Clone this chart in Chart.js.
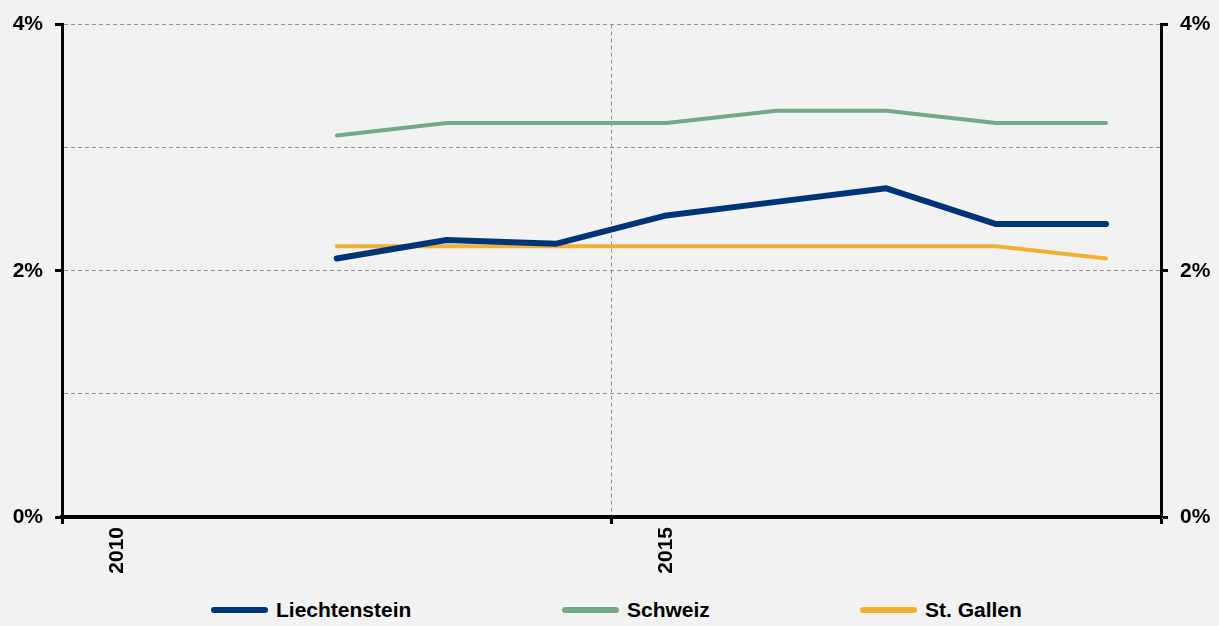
<!DOCTYPE html>
<html>
<head>
<meta charset="utf-8">
<script src="https://cdn.jsdelivr.net/npm/chart.js@4.4.1/dist/chart.umd.min.js"></script>
<style>
  html, body { margin: 0; padding: 0; background: #f2f2f2; }
  #wrap { width: 1219px; height: 626px; position: relative; background: #f2f2f2; }
  #box { width: 1219px; height: 590px; position: relative; }
  #legende { position: absolute; left: 0; top: 590px; width: 1219px; height: 36px; }
  .item { position: absolute; top: 8px; height: 24px; display: flex; align-items: center;
          font: bold 21px "Liberation Sans", Arial, sans-serif; color: #000; }
  .strich { width: 57px; height: 6px; border-radius: 3px; margin-right: 8px; }
</style>
</head>
<body>
<div id="wrap">
  <div id="box"><canvas id="myChart"></canvas></div>
  <div id="legende"></div>
</div>
<script>
// Jahre
var jahre = ['2010', '2011', '2012', '2013', '2014', '2015', '2016', '2017', '2018', '2019'];

// Werte in %
var liechtenstein = [null, null, 2.1, 2.25, 2.22, 2.45, 2.56, 2.67, 2.38, 2.38];
var schweiz       = [null, null, 3.1, 3.2, 3.2, 3.2, 3.3, 3.3, 3.2, 3.2];
var stGallen      = [null, null, 2.2, 2.2, 2.2, 2.2, 2.2, 2.2, 2.2, 2.1];

var namen = ['Liechtenstein', 'Schweiz', 'St. Gallen'];
var farben = ['#003478', '#72a98a', '#f0b030'];
var breiten = [6, 4, 4];
var legendeX = [211, 562, 860];

var schrift = { family: '"Liberation Sans", Arial, sans-serif', size: 21, weight: 'bold' };

function yTicks(v) {
    return v % 2 === 0 ? v + '%' : '';
}

const ctx = document.getElementById('myChart');
const myChart = new Chart(ctx, {
    type: 'line',
    data: {
        labels: jahre,
        datasets: [
            { label: namen[0], data: liechtenstein, borderColor: farben[0], backgroundColor: farben[0], borderWidth: breiten[0] },
            { label: namen[1], data: schweiz, borderColor: farben[1], backgroundColor: farben[1], borderWidth: breiten[1] },
            { label: namen[2], data: stGallen, borderColor: farben[2], backgroundColor: farben[2], borderWidth: breiten[2] }
        ]
    },
    options: {
        responsive: true,
        maintainAspectRatio: false,
        animation: false,
        layout: { padding: { top: 22, left: 0, right: 0, bottom: 0 } },
        elements: {
            point: { radius: 0, hoverRadius: 0 },
            line: { tension: 0, borderCapStyle: 'round', borderJoinStyle: 'round' }
        },
        plugins: {
            legend: { display: false },
            tooltip: { enabled: false }
        },
        scales: {
            x: {
                type: 'category',
                offset: true,
                afterFit: function (s) { s.height = 73; },
                grid: {
                    offset: true,
                    drawOnChartArea: true,
                    color: function (c) { return c.index === 5 ? '#8f8f8f' : 'rgba(0,0,0,0)'; },
                    lineWidth: 1,
                    tickLength: 7,
                    tickWidth: 3,
                    tickColor: function (c) {
                        return (c.index === 0 || c.index === 5 || c.index === undefined) ? '#000' : 'rgba(0,0,0,0)';
                    }
                },
                border: { display: true, color: '#000', width: 4, dash: [4, 3] },
                ticks: {
                    autoSkip: false,
                    maxRotation: 90,
                    minRotation: 90,
                    padding: 3,
                    color: '#000',
                    font: schrift,
                    callback: function (v, i) {
                        var j = jahre[i];
                        return (parseInt(j) % 5 === 0) ? j : '';
                    }
                }
            },
            y: {
                position: 'left',
                min: 0,
                max: 4,
                afterFit: function (s) { s.width = 62; },
                grid: {
                    color: function (c) { return c.tick.value === 0 ? 'rgba(0,0,0,0)' : '#8f8f8f'; },
                    lineWidth: 1,
                    tickLength: 7,
                    tickWidth: 3,
                    tickColor: function (c) { return c.tick.value % 2 === 0 ? '#000' : 'rgba(0,0,0,0)'; }
                },
                border: { display: true, color: '#000', width: 3, dash: [4, 3] },
                ticks: { stepSize: 1, padding: 12, color: '#000', font: schrift, callback: yTicks }
            },
            y2: {
                position: 'right',
                min: 0,
                max: 4,
                afterFit: function (s) { s.width = 58; },
                grid: {
                    drawOnChartArea: false,
                    tickLength: 7,
                    tickWidth: 3,
                    tickColor: function (c) { return c.tick.value % 2 === 0 ? '#000' : 'rgba(0,0,0,0)'; }
                },
                border: { display: true, color: '#000', width: 3 },
                ticks: { stepSize: 1, padding: 12, color: '#000', font: schrift, callback: yTicks }
            }
        }
    }
});

// Legende unten
var leg = document.getElementById('legende');
namen.forEach(function (n, i) {
    var d = document.createElement('div');
    d.className = 'item';
    d.style.left = legendeX[i] + 'px';
    d.innerHTML = '<span class="strich" style="background:' + farben[i] + '"></span>' + n;
    leg.appendChild(d);
});
</script>
</body>
</html>
